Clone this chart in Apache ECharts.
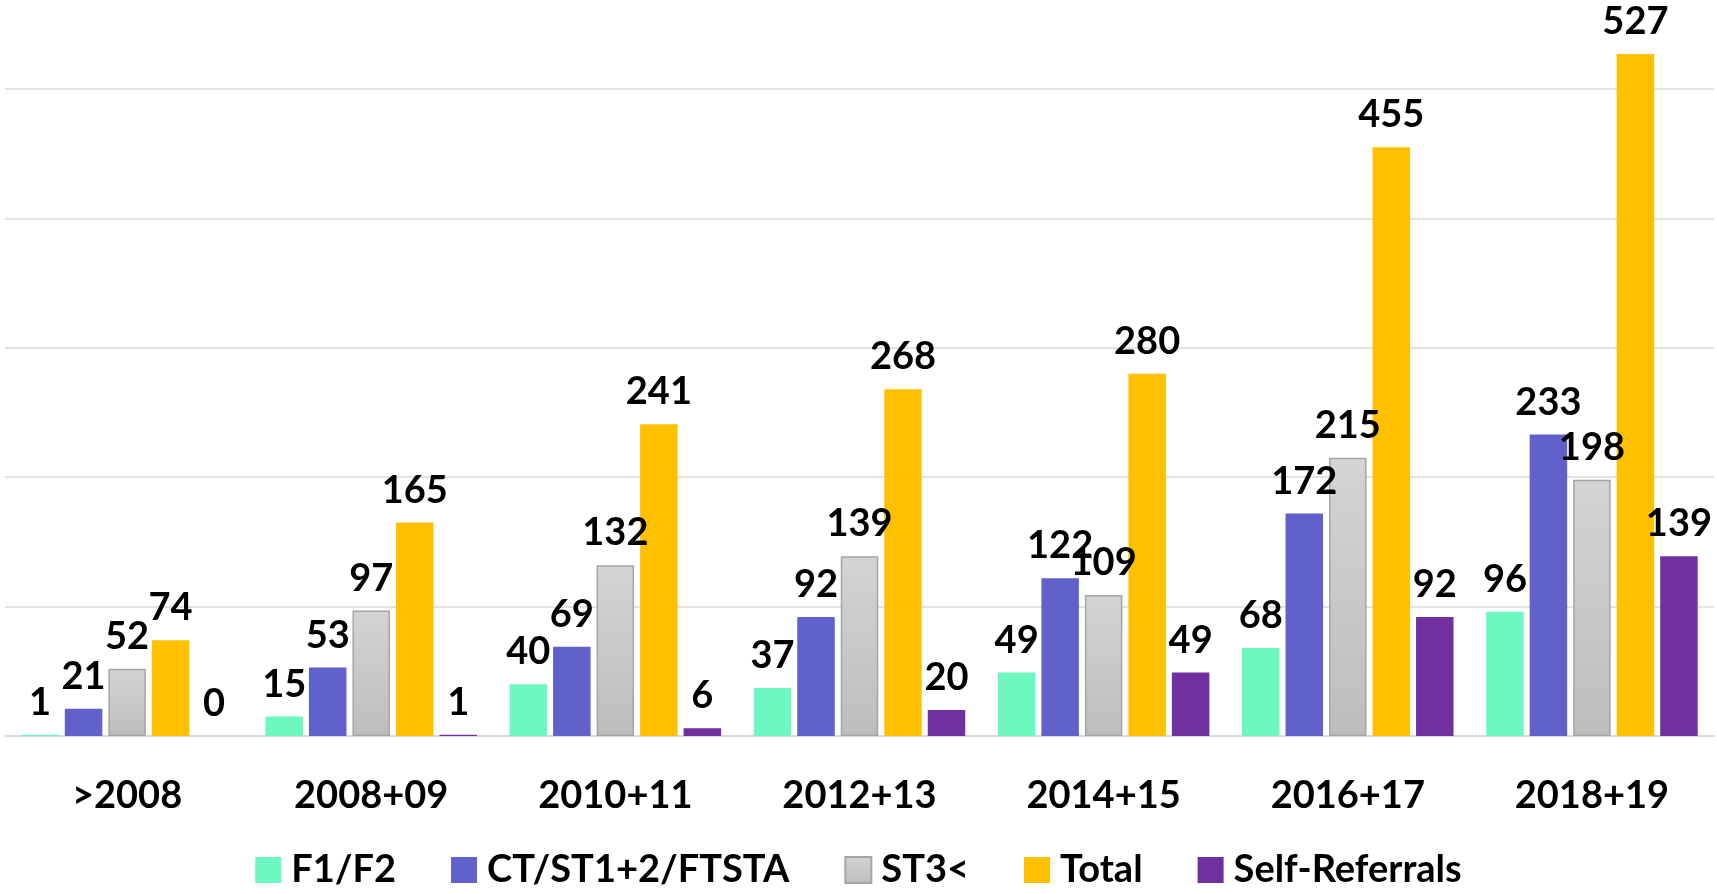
<!DOCTYPE html>
<html>
<head>
<meta charset="utf-8">
<title>Referrals</title>
<script src="https://cdn.jsdelivr.net/npm/echarts@6/dist/echarts.min.js"></script>
<style>
  html, body { margin: 0; padding: 0; background: #fff; }
  #chart { width: 1717px; height: 894px; }
</style>
</head>
<body>
<div id="chart"></div>
<script>
  // categories and values
  const categories = ['>2008', '2008+09', '2010+11', '2012+13', '2014+15', '2016+17', '2018+19'];
  const f1f2 = [1, 15, 40, 37, 49, 68, 96];
  const ctSt = [21, 53, 69, 92, 122, 172, 233];
  const st3 = [52, 97, 132, 139, 109, 215, 198];
  const total = [74, 165, 241, 268, 280, 455, 527];
  const selfRef = [0, 1, 6, 20, 49, 92, 139];

  const fontFam = 'Lato, "Open Sans", sans-serif';

  const myChart = echarts.init(document.getElementById('chart'));

  const label = {
    show: true,
    position: 'top',
    distance: 13,
    color: '#000',
    fontFamily: fontFam,
    fontWeight: 'bold',
    fontSize: 38
  };

  const makeBar = (name, data, itemStyle) => ({
    name: name,
    type: 'bar',
    data: data,
    barWidth: 37.5,
    barGap: '16%',
    clip: false,
    itemStyle: itemStyle,
    label: label,
    emphasis: { disabled: true }
  });

  const option = {
    animation: false,
    grid: {
      left: 5,
      right: 3,
      top: 89,
      bottom: 158,
      containLabel: false
    },
    legend: {
      top: 845,
      left: 'center',
      icon: 'rect',
      itemWidth: 26,
      itemHeight: 26,
      itemGap: 55,
      textStyle: {
        color: '#000',
        fontFamily: fontFam,
        fontWeight: 'bold',
        fontSize: 38,
        lineHeight: 40,
        padding: [0, 0, 0, 5]
      }
    },
    xAxis: {
      type: 'category',
      data: categories,
      axisLine: { lineStyle: { color: '#d9d9d9', width: 1.5 } },
      axisTick: { show: false },
      axisLabel: {
        color: '#000',
        fontFamily: fontFam,
        fontWeight: 'bold',
        fontSize: 38,
        margin: 41
      }
    },
    yAxis: {
      type: 'value',
      min: 0,
      max: 500,
      interval: 100,
      axisLabel: { show: false },
      axisLine: { show: false },
      axisTick: { show: false },
      splitLine: { lineStyle: { color: '#d9d9d9', width: 1.5 } }
    },
    series: [
      makeBar('F1/F2', f1f2, { color: '#6df7c1' }),
      makeBar('CT/ST1+2/FTSTA', ctSt, { color: '#6161cb' }),
      makeBar('ST3<', st3, {
        color: new echarts.graphic.LinearGradient(0, 0, 0, 1, [
          { offset: 0, color: '#d4d4d4' },
          { offset: 1, color: '#bdbdbd' }
        ]),
        borderColor: '#a5a5a5',
        borderWidth: 1.5
      }),
      makeBar('Total', total, { color: '#ffc000' }),
      makeBar('Self-Referrals', selfRef, { color: '#7030a0' })
    ]
  };

  myChart.setOption(option);
</script>
</body>
</html>
